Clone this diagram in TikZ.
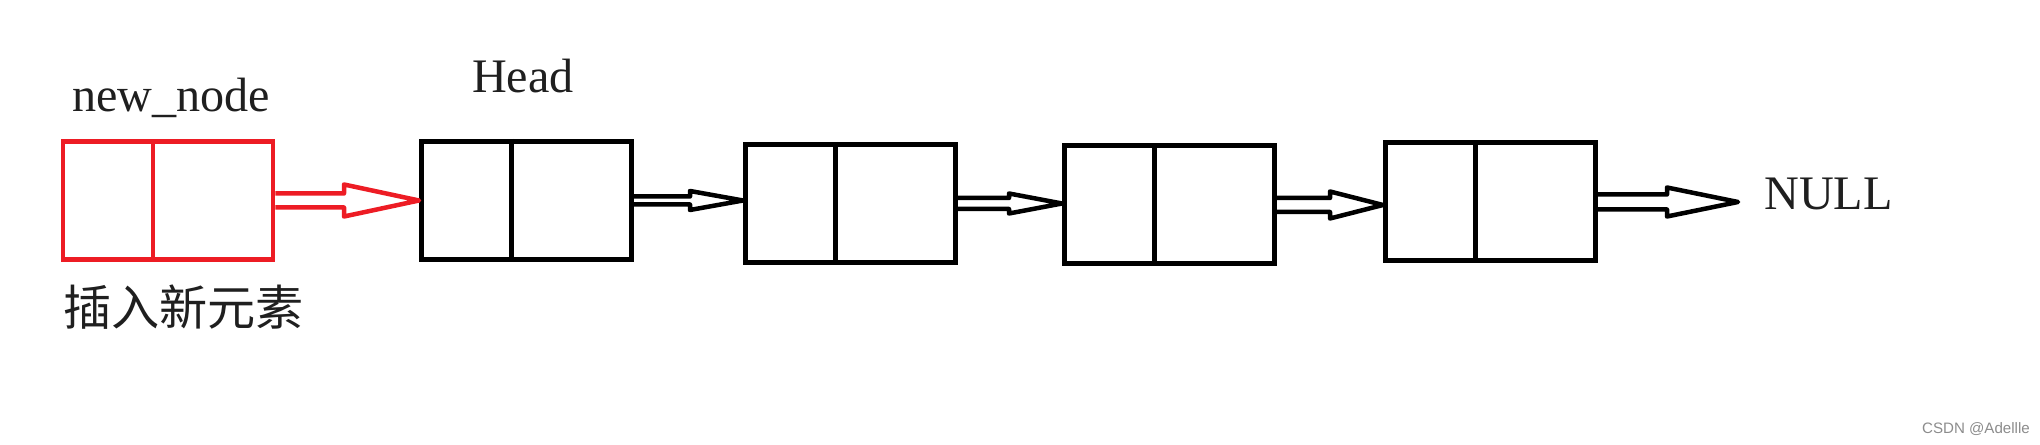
\documentclass[tikz,border=0pt]{standalone}
\usepackage{fontspec}
\setmainfont{Liberation Serif}
\newfontfamily\cjk{Noto Sans CJK SC}
\newfontfamily\wmfont{Liberation Sans}
\usetikzlibrary{calc}
\definecolor{paintred}{RGB}{237,28,36}

\begin{document}
\begin{tikzpicture}[
    cell/.style={draw, line width=0.05cm, minimum width=2.1cm, minimum height=1.18cm, inner sep=0pt},
    lbl/.style={font=\fontsize{13.7}{16}\selectfont, text=black!88, inner sep=0pt},
    link/.style n args={3}{line width=0.045cm, line join=round, to path={
        let \p1=(\tikztostart), \p2=(\tikztotarget) in
        (\x1,\y1+#2) -- (\x2-#1,\y1+#2) -- (\x2-#1,\y1+#3) -- (\x2,\y1)
        -- (\x2-#1,\y1-#3) -- (\x2-#1,\y1-#2) -- (\x1,\y1-#2)}}
]
    \useasboundingbox (0,0) rectangle (20.4,4.45);

    % the new element
    \node[cell, draw=paintred, line width=0.045cm] (newnode) at (1.68,2.445) {};
    \draw[paintred, line width=0.045cm] ($(newnode.north west)!0.43!(newnode.north east)$) -- ($(newnode.south west)!0.43!(newnode.south east)$);

    % the list
    \foreach \nm/\x/\y in {head/5.265/2.445, box2/8.505/2.415, box3/11.695/2.40, box4/14.905/2.43} {
        \node[cell] (\nm) at (\x,\y) {};
        \draw[line width=0.05cm] ($(\nm.north west)!0.43!(\nm.north east)$) -- ($(\nm.south west)!0.43!(\nm.south east)$);
    }
    \coordinate (nullend) at (17.38,2.49);

    % labels
    \node[lbl, anchor=base] (newlbl) at (1.71,3.33) {new\_node};
    \node[lbl, anchor=base] (headlbl) at (5.23,3.52) {Head};
    \node[lbl, anchor=base] (nulllbl) at (18.285,2.35) {NULL};
    \node[lbl, font=\cjk\fontsize{13.7}{16}\selectfont] (insertlbl) at (1.835,1.38) {插入新元素};
    \node[font=\wmfont\fontsize{4.3}{5}\selectfont, text=black!45] (mark) at (19.76,0.16) {CSDN @Adellle};

    % links
    \draw[link={0.75cm}{0.07cm}{0.16cm}, paintred] (newnode.east) to (head.west);
    \draw[link={0.53cm}{0.04cm}{0.095cm}] (head.east) to (box2.west);
    \draw[link={0.53cm}{0.055cm}{0.10cm}] (box2.east) to (box3.west);
    \draw[link={0.53cm}{0.07cm}{0.135cm}] (box3.east) to (box4.west);
    \draw[link={0.71cm}{0.075cm}{0.145cm}] (box4.east) to (nullend);
\end{tikzpicture}
\end{document}
